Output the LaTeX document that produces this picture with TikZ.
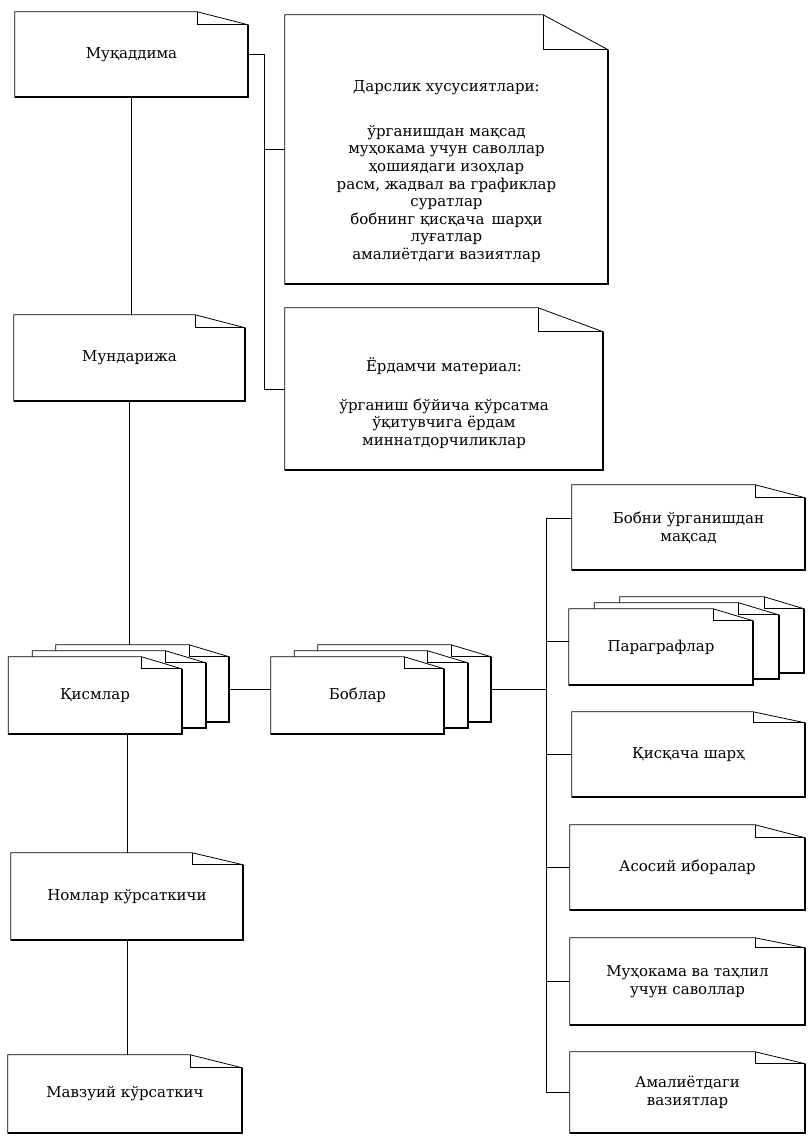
\documentclass[tikz,border=0pt]{standalone}
\usepackage{fontspec}
\setmainfont{DejaVu Serif}
\usetikzlibrary{calc}
\usetikzlibrary{backgrounds}

\tikzset{
  doc/.style={minimum width=233pt,minimum height=85pt,align=center,inner sep=2pt,
    font=\fontsize{15}{17.6}\selectfont},
  sheet/.style={doc,minimum width=173pt,minimum height=77pt},
  parsheet/.style={doc,minimum width=184pt,minimum height=76pt},
  link/.style={line width=0.8pt},
  rim/.style={fill=white,line width=0.8pt},
  shadow/.style={line width=2pt}
}

\begin{document}
\begin{tikzpicture}[x=1pt,y=-1pt]
\useasboundingbox (0,0) rectangle (807,1140);

\node[doc] (muq) at (131.5,54.5) {Муқаддима};
\node[doc,minimum width=231pt,minimum height=86pt] (mund) at (129.5,358) {Мундарижа};
\node[sheet] (kisC) at (142.5,683.5) {};
\node[sheet] (kisB) at (119,689.5) {};
\node[sheet] (kisA) at (95,695.5) {Қисмлар};
\node[sheet] (bobC) at (404.5,683.5) {};
\node[sheet] (bobB) at (381,689.5) {};
\node[sheet] (bobA) at (357.5,695.5) {Боблар};
\node[doc,minimum width=232pt,minimum height=87pt] (nom) at (127,896.5) {Номлар кўрсаткичи};
\node[doc,minimum width=234pt,minimum height=78pt] (mavz) at (125,1094) {Мавзуий кўрсаткич};

\node[doc,minimum width=323pt,minimum height=269pt] (dars) at (446.5,149.5)
  {\strut\\[25.4pt]Дарслик хусусиятлари:\\[27pt]ўрганишдан мақсад\\муҳокама учун саволлар\\ҳошиядаги изоҳлар\\расм, жадвал ва графиклар\\суратлар\\бобнинг қисқача\, шарҳи\\луғатлар\\амалиётдаги вазиятлар};
\node[doc,minimum width=318pt,minimum height=162pt] (yord) at (444,389)
  {\strut\\[9.4pt]Ёрдамчи материал:\\[21pt]ўрганиш бўйича кўрсатма\\ўқитувчига ёрдам\\миннатдорчиликлар};

\node[doc] (bobni) at (688.5,527.5) {Бобни ўрганишдан\\мақсад};
\node[parsheet] (parC) at (712,635) {};
\node[parsheet] (parB) at (686.5,641) {};
\node[parsheet] (parA) at (661,647) {Параграфлар};
\node[doc] (qisq) at (688.5,754.5) {Қисқача шарҳ};
\node[doc,minimum width=235pt] (asos) at (687.5,867.5) {Асосий иборалар};
\node[doc,minimum width=235pt,minimum height=87pt] (muh) at (687.5,981.5) {Муҳокама ва таҳлил\\учун саволлар};
\node[doc,minimum width=235pt,minimum height=81pt] (amal) at (687.5,1092.5) {Амалиётдаги\\вазиятлар};

\begin{scope}[on background layer]
\foreach \n/\fw/\fh in {muq/51/13,mund/50/13,kisC/40/12,kisB/40/12,kisA/40/12,
    bobC/40/12,bobB/40/12,bobA/40/12,nom/51/12,mavz/52/13,dars/65/35,yord/65/24,
    bobni/50/13,parC/40/12,parB/40/12,parA/40/12,qisq/52/11,asos/50/13,muh/50/10,amal/50/12}{
  \filldraw[rim] (\n.south east) -- (\n.south west) -- (\n.north west)
    -- ($(\n.north east)+(-\fw,0)$) -- ($(\n.north east)+(0,\fh)$) -- cycle;
  \draw[link] ($(\n.north east)+(-\fw,0)$) |- ($(\n.north east)+(0,\fh)$);
  \draw[shadow] ($(\n.north east)+(0,\fh)$) -- (\n.south east) -- (\n.south west);
}
\end{scope}

\coordinate (jA) at ($(dars.west)+(-20,0)$);
\coordinate (spine) at (546,688);

\draw[link] (muq.south) -- (muq.south |- mund.north);
\draw[link] (mund.south) -- (mund.south |- kisC.north);
\draw[link] (kisA.south -| nom.north) -- (nom.north);
\draw[link] (nom.south) -- (nom.south |- mavz.north);
\draw[link] (muq.east) -| (jA) |- (yord.west);
\draw[link] (jA) -- (dars.west);
\draw[link] (kisC.east |- kisB.center) -- (bobA.west |- kisB.center);
\draw[link] (bobC.east |- bobB.center) -- (spine |- bobB.center);
\draw[link] ([yshift=9pt]bobni.west) -| (spine |- amal.west) -- (amal.west);
\draw[link] (parA.west |- parB.center) -- (spine |- parB.center);
\foreach \n in {qisq,asos,muh}
  \draw[link] (\n.west) -- (spine |- \n.west);

\end{tikzpicture}
\end{document}
